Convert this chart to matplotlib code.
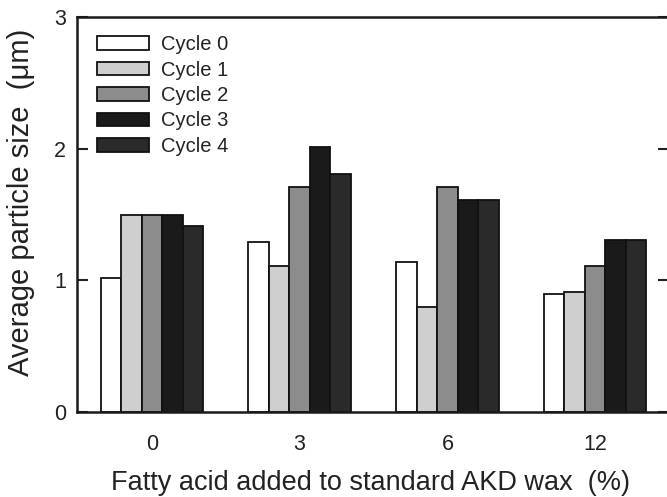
import matplotlib
matplotlib.use("Agg")
import matplotlib.pyplot as plt
import numpy as np

plt.rcParams['font.family'] = ['Liberation Sans', 'DejaVu Sans']

categories = ["0", "3", "6", "12"]
series_names = ["Cycle 0", "Cycle 1", "Cycle 2", "Cycle 3", "Cycle 4"]
cycle0 = [1.02, 1.29, 1.14, 0.90]
cycle1 = [1.50, 1.11, 0.80, 0.91]
cycle2 = [1.50, 1.71, 1.71, 1.11]
cycle3 = [1.50, 2.01, 1.61, 1.31]
cycle4 = [1.41, 1.81, 1.61, 1.31]
series = [cycle0, cycle1, cycle2, cycle3, cycle4]
colors = ["#ffffff", "#cfcfcf", "#8c8c8c", "#1a1a1a", "#2a2a2a"]

fig = plt.figure(figsize=(6.67, 4.97), dpi=100)
ax = fig.add_axes([77/667, 1 - 412/497, (669 - 77)/667, (412 - 17)/497])

x = np.arange(len(categories))
w = 0.1385
tc = "#222222"
for i, (vals, name, c) in enumerate(zip(series, series_names, colors)):
    ax.bar(x + (i - 2) * w, vals, width=w, color=c, edgecolor="#111111",
           linewidth=1.3, label=name)

ax.set_xlim(-0.507, 3.50)
ax.set_ylim(0, 3)
ax.set_yticks([0, 1, 2, 3])
ax.set_xticks(x)
ax.set_xticklabels(categories)
ax.tick_params(axis='x', length=0, pad=16, labelsize=15.5, colors=tc)
ax.tick_params(axis='y', direction='in', length=8, width=1.5, labelsize=15.5,
               colors=tc, right=True, pad=8)
for s in ax.spines.values():
    s.set_linewidth(1.8)
    s.set_color("#1a1a1a")

ax.set_xlabel("Fatty acid added to standard AKD wax  (%)", fontsize=19.5,
              color=tc)
ax.xaxis.set_label_coords(0.496, -0.148)
ax.set_ylabel("Average particle size  (\u03bcm)", fontsize=21, color=tc)
ax.yaxis.set_label_coords(-0.071, 0.53)

leg = ax.legend(loc="upper left", bbox_to_anchor=(0.003, 1.0), frameon=False,
                fontsize=14.5, handlelength=2.6, handleheight=0.65,
                handletextpad=0.6, labelspacing=0.32)
for t in leg.get_texts():
    t.set_color(tc)

fig.savefig("out.png", dpi=100)
